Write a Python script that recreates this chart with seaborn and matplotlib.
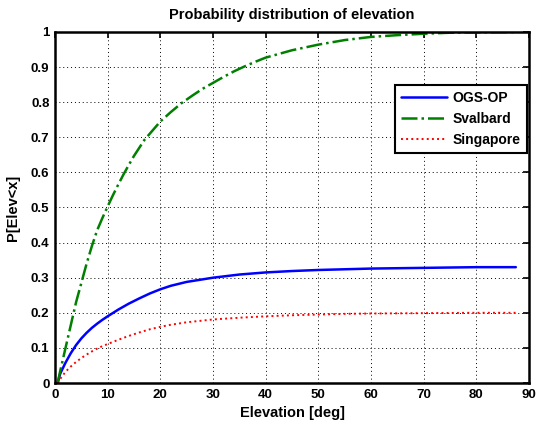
import matplotlib
matplotlib.use("Agg")
import matplotlib.pyplot as plt
import seaborn as sns

# Data
ogs_x = [0.5, 1, 2, 3, 4, 5, 6, 7, 8, 9, 10, 12, 14, 16, 18, 20, 22, 25, 30, 35, 40, 45, 50, 55, 60, 65, 70, 75, 80, 87.5]
ogs_y = [0, 0.027, 0.058, 0.085, 0.108, 0.127, 0.143, 0.157, 0.169, 0.18, 0.19, 0.209, 0.226, 0.241, 0.255, 0.267, 0.277, 0.288, 0.3, 0.309, 0.315, 0.319, 0.322, 0.324, 0.326, 0.327, 0.328, 0.329, 0.33, 0.33]

sval_x = [0.5, 1, 2, 3, 4, 5, 6, 7, 8, 9, 10, 11, 12, 13, 14, 15, 17, 20, 22, 24, 26, 28, 30, 32, 34, 36, 38, 40, 45, 50, 55, 60, 65, 70, 75, 80, 87.5]
sval_y = [0, 0.035, 0.1, 0.165, 0.23, 0.285, 0.34, 0.39, 0.435, 0.47, 0.503, 0.535, 0.565, 0.594, 0.621, 0.647, 0.693, 0.745, 0.772, 0.797, 0.818, 0.838, 0.855, 0.872, 0.888, 0.902, 0.915, 0.927, 0.948, 0.964, 0.977, 0.986, 0.991, 0.995, 0.998, 0.999, 1.0]

sing_x = [0.5, 1, 2, 3, 4, 5, 6, 7, 8, 9, 10, 12, 14, 16, 18, 20, 22, 25, 30, 35, 40, 45, 50, 55, 60, 70, 80, 87.5]
sing_y = [0, 0.012, 0.032, 0.047, 0.06, 0.071, 0.081, 0.09, 0.098, 0.105, 0.111, 0.123, 0.134, 0.144, 0.153, 0.16, 0.166, 0.173, 0.181, 0.186, 0.19, 0.193, 0.195, 0.197, 0.198, 0.199, 0.2, 0.2]

labels = ["OGS-OP", "Svalbard", "Singapore"]
xticks = list(range(0, 91, 10))
yticks = [0, 0.1, 0.2, 0.3, 0.4, 0.5, 0.6, 0.7, 0.8, 0.9, 1]
ytick_labels = ["0", "0.1", "0.2", "0.3", "0.4", "0.5", "0.6", "0.7", "0.8", "0.9", "1"]

sns.set_style("white")
plt.rcParams['font.family'] = ['Liberation Sans', 'DejaVu Sans']
plt.rcParams['font.weight'] = 'bold'
plt.rcParams['text.color'] = 'black'
plt.rcParams['axes.labelcolor'] = 'black'

fig = plt.figure(figsize=(5.36, 4.23), dpi=100)
ax = fig.add_axes([55/536, 40/423, 474/536, 351/423])

sns.lineplot(x=ogs_x, y=ogs_y, ax=ax, color="#0000ff", linewidth=1.8, linestyle="-", label=labels[0], sort=False)
sns.lineplot(x=sval_x, y=sval_y, ax=ax, color="#008000", linewidth=1.8, linestyle="-.", label=labels[1], sort=False)
sns.lineplot(x=sing_x, y=sing_y, ax=ax, color="#ff0000", linewidth=1.4, linestyle=":", label=labels[2], sort=False)

ax.set_xlim(0, 90)
ax.set_ylim(0, 1)
ax.set_xticks(xticks)
ax.set_yticks(yticks)
ax.set_yticklabels(ytick_labels)
ax.grid(True, color="black", linestyle=(0, (1, 3)), linewidth=0.7)
for s in ax.spines.values():
    s.set_visible(True)
    s.set_color("black")
    s.set_linewidth(1.8)
ax.tick_params(direction="in", length=4, width=1.2, top=True, right=True,
               labelsize=9.5, colors="black", pad=4)
for lab in ax.get_xticklabels() + ax.get_yticklabels():
    lab.set_fontweight("bold")

ax.set_title("Probability distribution of elevation", fontsize=10.5, fontweight="bold", pad=9, color="black")
ax.set_xlabel("Elevation [deg]", fontsize=10.5, fontweight="bold", labelpad=4, color="black")
ax.set_ylabel("P[Elev<x]", fontsize=10.5, fontweight="bold", labelpad=8, color="black")

leg = ax.legend(loc="upper right", bbox_to_anchor=(0.996, 0.849), fontsize=10,
                frameon=True, fancybox=False, framealpha=1, edgecolor="black",
                handlelength=3.3, borderpad=0.45, labelspacing=0.5, handletextpad=0.4,
                borderaxespad=0)
leg.get_frame().set_linewidth(1.5)
for t in leg.get_texts():
    t.set_fontweight("bold")
    t.set_color("black")

fig.savefig("out.png", dpi=100, facecolor="white")
